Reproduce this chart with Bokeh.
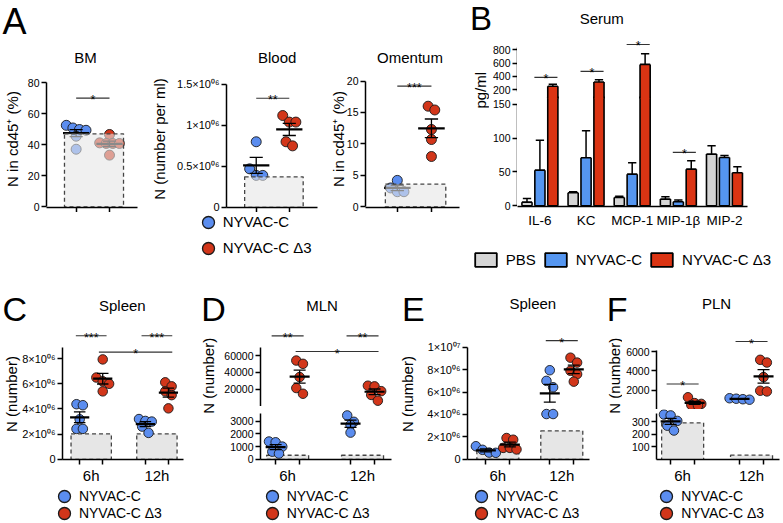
import numpy as np
from bokeh.plotting import figure
from bokeh.layouts import row, column
from bokeh.models import FixedTicker, Label, Range1d, Legend, LegendItem, LinearAxis, Grid
from bokeh.embed import file_html
from bokeh.resources import INLINE

# ---------------- data ----------------
series_names = ["NYVAC-C", "NYVAC-C Δ3"]
bar_series_names = ["PBS", "NYVAC-C", "NYVAC-C Δ3"]

# Panel A
bm_nyvac = [52.5, 50.8, 49.8, 49.3, 45.5, 37.1]
bm_d3 = [46.6, 41.2, 40.8, 40.8, 40.8, 33.3]
bm_pbs = [47.0]
blood_nyvac = [0.80e6, 0.47e6, 0.39e6, 0.39e6]
blood_d3 = [1.12e6, 1.04e6, 1.04e6, 0.80e6, 0.75e6]
blood_pbs = [0.373e6]
om_nyvac = [4.2, 3.0, 2.4, 2.4]
om_d3 = [16.0, 15.4, 12.3, 10.7, 8.0]
om_pbs = [3.6]
a_titles = ["BM", "Blood", "Omentum"]
a_ylabels = ["N in cd45⁺ (%)", "N (number per ml)", "N in cd45⁺ (%)"]
a_sig_y = [70.0, 1.33e6, 19.2]
a_sig_stars = ["*", "**", "***"]

bm_ticks = [0, 20, 40, 60, 80]
blood_ticks = [0, 500000, 1000000, 1500000]
blood_tick_labels = ["0", "0.5×10⁰⁶", "1×10⁰⁶", "1.5×10⁰⁶"]
om_ticks = [0, 5, 10, 15, 20]

# Panel B
b_cytokines = ["IL-6", "KC", "MCP-1", "MIP-1β", "MIP-2"]
b_pbs = [5.4, 19.2, 12.3, 9.9, 76.4]
b_pbs_err = [5.4, 1.5, 2.0, 3.4, 12.3]
b_nyvac = [52.7, 71.0, 46.8, 5.9, 71.4]
b_nyvac_err = [44.0, 40.0, 17.0, 2.5, 3.0]
b_d3 = [250.0, 314.0, 579.0, 54.2, 48.8]
b_d3_err = [30.0, 36.0, 160.0, 12.3, 8.8]
b_sig_index = [0, 1, 2, 3]
b_sig_y = [384.0, 474.0, 879.0, 79.0]
b_upper_ticks = [200, 400, 600, 800]
b_lower_ticks = [0, 50, 100, 150]

# Panels C-F
times = ["6h", "12h"]
c_nyvac = [[4.38e6, 4.30e6, 3.18e6, 2.42e6, 2.42e6], [3.20e6, 3.05e6, 3.00e6, 2.60e6, 2.10e6]]
c_d3 = [[7.94e6, 6.50e6, 6.20e6, 6.00e6, 5.40e6], [6.12e6, 5.80e6, 5.40e6, 5.10e6, 4.05e6]]
c_pbs = [2.03e6, 2.03e6]
c_sig = [((0, 0), (0, 1), 9.82e6, "***"), ((1, 0), (1, 1), 9.82e6, "***"), ((0, 1), (1, 1), 8.52e6, "*")]
c_ticks = [0, 2000000, 4000000, 6000000, 8000000]
c_tick_labels = ["0", "2×10⁰⁶", "4×10⁰⁶", "6×10⁰⁶", "8×10⁰⁶"]

d_nyvac = [[1400, 1340, 1000, 600, 450], [3450, 2950, 2700, 2100]]
d_d3 = [[54000, 50100, 34300, 21200, 14400], [24000, 23200, 17500, 13000, 6100]]
d_pbs = [320, 320]
d_sig = [((0, 0), (0, 1), 83450, "**"), ((1, 0), (1, 1), 83450, "**"), ((0, 1), (1, 1), 64760, "*")]
d_upper_ticks = [20000, 40000, 60000]
d_lower_ticks = [0, 1000, 2000, 3000]

e_nyvac = [[1.17e6, 0.85e6, 0.60e6, 0.58e6], [7.95e6, 7.00e6, 6.43e6, 4.04e6, 4.04e6]]
e_d3 = [[1.90e6, 1.75e6, 1.02e6, 1.02e6, 0.88e6], [9.07e6, 8.63e6, 7.90e6, 7.60e6, 6.93e6]]
e_pbs = [0.79e6, 2.54e6]
e_sig = [((1, 0), (1, 1), 10.59e6, "*")]
e_ticks = [0, 2000000, 4000000, 6000000, 8000000, 10000000]
e_tick_labels = ["0", "2×10⁰⁶", "4×10⁰⁶", "6×10⁰⁶", "8×10⁰⁶", "1×10⁰⁷"]

f_nyvac = [[355, 348, 305, 267, 229], [1200, 1150, 1100, 1050]]
f_d3 = [[1300, 700, 620, 500, 450], [5150, 4870, 3370, 1970, 1900]]
f_pbs = [290, 35]
f_sig = [((0, 0), (0, 1), 2656, "*"), ((1, 0), (1, 1), 7026, "*")]
f_upper_ticks = [2000, 4000, 6000]
f_lower_ticks = [0, 100, 200, 300]

time_ylabel = "N (number)"

# ---------------- styling / layout ----------------
INF = float("inf")
FONT = "Liberation Sans"
INK = "#000000"
BLUE = "#5b8def"
RED = "#d2361a"
BAR_BLUE = "#5596f0"
BAR_RED = "#db3413"
BAR_GRAY = "#d5d5d5"
BOX_FILL = "#e6e6e6"

W, H = 782, 522
SX, SY = W / 783.0, H / 523.0


def LX(v):
    return int(round(v * SX))


def LY(v):
    return int(round(v * SY))


def lin_range(anch, e_lo, e_hi, s):
    a1, p1, a2, p2 = anch
    k = (p2 - p1) * s / (a2 - a1)
    return (a1 + (e_lo - p1 * s) / k, a1 + (e_hi - p1 * s) / k)


def base_fig(w, h, xr, yr, mb, x_axis, y_axis):
    p = figure(width=w, height=h, x_range=xr, y_range=yr,
               min_border_left=mb[0], min_border_right=mb[1],
               min_border_top=mb[2], min_border_bottom=mb[3],
               toolbar_location=None, tools="", output_backend="svg",
               x_axis_location=("below" if x_axis else None),
               y_axis_location=("left" if y_axis else None))
    p.outline_line_color = None
    p.grid.visible = False
    p.center = [r for r in p.center if not isinstance(r, Grid)]
    p.background_fill_color = "white"
    p.border_fill_color = "white"
    return p


def make_fig(box, frame, xa, ya, x_axis=True, y_axis=True):
    bx0, by0, bx1, by1 = LX(box[0]), LY(box[1]), LX(box[2]), LY(box[3])
    fx0, fy0, fx1, fy1 = LX(frame[0]), LY(frame[1]), LX(frame[2]), LY(frame[3])
    xr = Range1d(*lin_range(xa, fx0, fx1, SX))
    yr = Range1d(*lin_range(ya, fy1, fy0, SY))
    p = base_fig(bx1 - bx0, by1 - by0, xr, yr,
                 (fx0 - bx0, bx1 - fx1, fy0 - by0, by1 - fy1), x_axis, y_axis)
    info = dict(fx0=fx0, fy0=fy0, fx1=fx1, fy1=fy1, ystart=yr.start, yend=yr.end,
                kx=(fx1 - fx0) / (xr.end - xr.start),
                ky=(fy1 - fy0) / (yr.end - yr.start))
    return p, info


def text_fig(box):
    bx0, by0, bx1, by1 = LX(box[0]), LY(box[1]), LX(box[2]), LY(box[3])
    w, h = bx1 - bx0, by1 - by0
    p = base_fig(w, h, Range1d(0, w), Range1d(0, h), (0, 0, 0, 0), False, False)
    return p, dict(fx0=bx0, fy0=by0, fx1=bx1, fy1=by1)


def style_axis(ax, size, standoff=2):
    ax.axis_line_color = INK
    ax.axis_line_width = 1.5
    ax.major_tick_line_color = INK
    ax.major_tick_line_width = 1.5
    ax.major_tick_out = 5
    ax.major_tick_in = 0
    ax.minor_tick_line_color = None
    ax.major_label_text_font = FONT
    ax.major_label_text_font_size = size
    ax.major_label_text_color = INK
    ax.major_label_standoff = standoff


def blank_labels(ax, ticks):
    ax.ticker = FixedTicker(ticks=[float(t) for t in ticks], minor_ticks=[])
    ax.major_label_overrides = {float(t): "" for t in ticks}
    ax.major_label_text_font_size = "0px"
    ax.major_label_standoff = 0


def set_y(p, ticks, labels, bounds, size):
    ax = p.yaxis[0]
    style_axis(ax, size)
    ax.ticker = FixedTicker(ticks=[float(t) for t in ticks], minor_ticks=[])
    if labels is not None:
        ax.major_label_overrides = {float(t): s for t, s in zip(ticks, labels)}
    ax.bounds = (float(bounds[0]), float(bounds[1]))
    return ax


def set_axis_label(ax, text, standoff):
    ax.axis_label = text
    ax.axis_label_text_font = FONT
    ax.axis_label_text_font_size = "15px"
    ax.axis_label_text_font_style = "normal"
    ax.axis_label_text_color = INK
    ax.axis_label_standoff = standoff


def add_text(p, info, text, rx, ry, size, align="center", angle=0.0):
    p.add_layout(Label(x=rx * SX - info["fx0"], y=info["fy1"] - ry * SY,
                       x_units="screen", y_units="screen", text=text,
                       text_font=FONT, text_font_size=size, text_align=align,
                       text_baseline="middle", angle=angle, text_color=INK))


def add_sig(p, x0, x1, yv, stars, rn="default"):
    p.segment(x0=[x0], y0=[yv], x1=[x1], y1=[yv], line_color="#333333", line_width=1.1, y_range_name=rn)
    p.add_layout(Label(x=(x0 + x1) / 2, y=yv, text=stars, text_align="center", y_range_name=rn,
                       text_baseline="alphabetic", y_offset=-2, text_font=FONT,
                       text_font_size="12.5px", text_color=INK))


def swarm(vals, kx, ky, d):
    order = np.argsort(-vals, kind="stable")
    off = np.zeros(len(vals))
    rows, cur = [], [order[0]]
    for i in order[1:]:
        if (vals[cur[0]] - vals[i]) * ky <= 0.75 * d:
            cur.append(i)
        else:
            rows.append(cur)
            cur = [i]
    rows.append(cur)
    for r in rows:
        n = len(r)
        for j, i in enumerate(r):
            off[i] = (j - (n - 1) / 2.0) * 0.7 * d / kx
    return off


def draw_group(p, info, xc, vals, color, size, mean_hw, cap_hw):
    vals = np.asarray(vals, dtype=float)
    off = swarm(vals, info["kx"], info["ky"], size)
    p.scatter(xc + off, vals, size=size, fill_color=color, line_color="#1a1a1a", line_width=0.9)
    m = vals.mean()
    se = vals.std(ddof=1) / np.sqrt(len(vals))
    hw = mean_hw / info["kx"]
    cw = cap_hw / info["kx"]
    p.segment(x0=[xc, xc - cw, xc - cw], y0=[m - se, m + se, m - se],
              x1=[xc, xc + cw, xc + cw], y1=[m + se, m + se, m - se],
              line_color=INK, line_width=1.3)
    p.segment(x0=[xc - hw], y0=[m], x1=[xc + hw], y1=[m], line_color=INK, line_width=2.2)


def circle_legend(p, info, cx, cy, label, color, size):
    gh = 30
    r = p.scatter(x=np.array([np.nan]), y=np.array([np.nan]), size=10, fill_color=color,
                  line_color="#1a1a1a", line_width=1.3)
    top = cy * SY - gh / 2.0
    left = cx * SX - gh / 2.0
    p.add_layout(Legend(items=[LegendItem(label=label, renderers=[r])],
                        location=(left - info["fx0"], info["fy1"] - (top + gh)),
                        glyph_width=gh, glyph_height=gh, label_standoff=0, padding=0, margin=0,
                        border_line_color=None, background_fill_alpha=0.0,
                        label_text_font=FONT, label_text_font_size=size, label_text_color=INK))


def series_legend(p, info, cx, cy, pitch, size):
    for k, (name, color) in enumerate(zip(series_names, (BLUE, RED))):
        circle_legend(p, info, cx, cy + k * pitch, name, color, size)


# ---------------- panel A ----------------
A_TOP, A_FRAME_BOT, A_BOT, ROW1 = 70, 207, 212, 287


def build_A(bx, fx, xa, ya, ticks, labels, bounds, tsize, ny, d3, pbs, sig_y, stars, ylabel, ystand):
    p, info = make_fig((bx[0], A_TOP, bx[1], A_BOT), (fx[0], A_TOP, fx[1], A_FRAME_BOT), xa, ya)
    ax = set_y(p, ticks, labels, bounds, tsize)
    set_axis_label(ax, ylabel, ystand)
    xax = p.xaxis[0]
    style_axis(xax, "0px", 0)
    g = np.arange(1, len(series_names) + 1, dtype=float)
    blank_labels(xax, g)
    for k, (vals, color) in enumerate(((ny, BLUE), (d3, RED))):
        draw_group(p, info, g[k], vals, color, 10, 14, 7)
    p.quad(left=[g[0] - 0.35], right=[g[-1] + 0.42], bottom=[0], top=pbs,
           fill_color=BOX_FILL, fill_alpha=0.6, line_color="#444444", line_dash="4 3", line_width=1.3)
    add_sig(p, g[0], g[-1], sig_y, stars)
    return p


hA, ihA = text_fig((0, 0, 468, A_TOP))
add_text(hA, ihA, "A", 2, 21, "36px", align="left")
for t, tx in zip(a_titles, [85, 277, 410]):
    add_text(hA, ihA, t, tx, 57, "15px")

bm = build_A((0, 148), (40, 137), (1, 71.7, 2, 107.3), (0, 206.7, 80, 82.3),
             bm_ticks, None, (0, 80), "10.5px", bm_nyvac, bm_d3, bm_pbs, a_sig_y[0], a_sig_stars[0],
             a_ylabels[0], 4)
blood = build_A((148, 326), (220, 317), (1, 252, 2, 287.3), (0, 207.3, 1.5e6, 84),
                blood_ticks, blood_tick_labels, (0, 1.5e6), "11px", blood_nyvac, blood_d3, blood_pbs,
                a_sig_y[1], a_sig_stars[1], a_ylabels[1], 6)
om = build_A((326, 468), (360, 460), (1, 394, 2, 430), (0, 206.7, 20, 80.7),
             om_ticks, None, (0, 20), "10.5px", om_nyvac, om_d3, om_pbs, a_sig_y[2], a_sig_stars[2],
             a_ylabels[2], -3)

fA, ifA = text_fig((0, A_BOT, 468, ROW1))
series_legend(fA, ifA, 208, 222, 26.3, "15px")

col_A = column(hA, row(bm, blood, om), fA)

# ---------------- panel B (broken y axis, one plotting frame, two scales) ----------------
CAT_W = 231 / 5.0
BAR_W = 0.22
b_xa = (0, 517 + 0.5 * CAT_W, 4, 517 + 4.5 * CAT_W)
B_TOP, B_JOIN, B_FRAME_BOT, B_FOOT = 37, 97, 206, 235
UP_ANCH = (200, 89.3, 800, 49.3)
LO_ANCH = (0, 205.7, 150, 104)
B_THR = 170.0

hB, ihB = text_fig((468, 0, 782, B_TOP))
add_text(hB, ihB, "B", 470, 18.5, "33px", align="left")
add_text(hB, ihB, "Serum", 602, 18, "15px")
sB, isB = text_fig((468, B_TOP, 490, B_FOOT))
add_text(sB, isB, "pg/ml", 481, 119, "15px", angle=np.pi / 2)

# axis-only figures carrying the two y-axis segments
axU, iU = make_fig((490, B_TOP, 518, B_JOIN), (517, B_TOP, 518, B_JOIN), b_xa, UP_ANCH, x_axis=False)
set_y(axU, b_upper_ticks, None, (175, 830), "10.5px")
axL, iL = make_fig((490, B_JOIN, 518, B_FOOT), (517, B_JOIN, 518, B_FRAME_BOT), b_xa, LO_ANCH, x_axis=False)
set_y(axL, b_lower_ticks, None, (0, 150), "10.5px")

pB, iB = make_fig((518, B_TOP, 782, B_FOOT), (518, B_TOP, 748, B_FRAME_BOT), b_xa, LO_ANCH,
                  x_axis=True, y_axis=False)
up_rng = Range1d(*lin_range(UP_ANCH, iB["fy1"], iB["fy0"], SY))
pB.extra_y_ranges = {"up": up_rng}
ky_lo = iB["ky"]
ky_up = (iB["fy1"] - iB["fy0"]) / (up_rng.end - up_rng.start)
J = LY(B_JOIN)
LJ = iB["ystart"] + (iB["fy1"] - J) / ky_lo + 1.0 / ky_lo      # lower scale value just above the break
UJ = up_rng.start + (iB["fy1"] - J) / ky_up - 1.0 / ky_up      # upper scale value just below the break

xs0 = np.arange(len(b_cytokines), dtype=float)
offs = [-0.28, 0.0, 0.28]
outline = dict(line_color=INK, line_width=1.6)
for k, (vals, errs, color) in enumerate(((b_pbs, b_pbs_err, BAR_GRAY),
                                        (b_nyvac, b_nyvac_err, BAR_BLUE),
                                        (b_d3, b_d3_err, BAR_RED))):
    v = np.asarray(vals, dtype=float)
    e = np.asarray(errs, dtype=float)
    xs = xs0 + offs[k]
    xl, xr_ = xs - BAR_W / 2, xs + BAR_W / 2
    hi = v > B_THR
    lo = ~hi
    top_lo = np.minimum(v, LJ)
    zeros = np.zeros(len(v))
    # lower-scale part of every bar
    pB.vbar(x=xs, top=top_lo, bottom=zeros, width=BAR_W, fill_color=color, line_color=None)
    pB.segment(x0=np.concatenate([xl, xr_, xl]), y0=np.concatenate([zeros, zeros, zeros]),
               x1=np.concatenate([xl, xr_, xr_]), y1=np.concatenate([top_lo, top_lo, zeros]), **outline)
    if lo.any():
        pB.segment(x0=xl[lo], y0=v[lo], x1=xr_[lo], y1=v[lo], **outline)
        et = (v + e)[lo]
        pB.segment(x0=xs[lo], y0=v[lo], x1=xs[lo], y1=et, line_color=INK, line_width=1.5)
        pB.segment(x0=xs[lo] - 0.09, y0=et, x1=xs[lo] + 0.09, y1=et, line_color=INK, line_width=1.5)
    # upper-scale part of the bars that cross the break
    if hi.any():
        ub = np.full(hi.sum(), UJ)
        pB.vbar(x=xs[hi], top=v[hi], bottom=ub, width=BAR_W, fill_color=color, line_color=None,
                y_range_name="up")
        pB.segment(x0=np.concatenate([xl[hi], xr_[hi], xl[hi]]), y0=np.concatenate([ub, ub, v[hi]]),
                   x1=np.concatenate([xl[hi], xr_[hi], xr_[hi]]), y1=np.concatenate([v[hi], v[hi], v[hi]]),
                   y_range_name="up", **outline)
        et = (v + e)[hi]
        pB.segment(x0=xs[hi], y0=v[hi], x1=xs[hi], y1=et, line_color=INK, line_width=1.5, y_range_name="up")
        pB.segment(x0=xs[hi] - 0.09, y0=et, x1=xs[hi] + 0.09, y1=et, line_color=INK, line_width=1.5,
                   y_range_name="up")
for idx, yv in zip(b_sig_index, b_sig_y):
    add_sig(pB, idx - 0.12, idx + 0.38, yv, "*", rn=("up" if yv > B_THR else "default"))
bx_ax = pB.xaxis[0]
style_axis(bx_ax, "13.5px", 6)
bx_ax.major_tick_out = 0
bx_ax.ticker = FixedTicker(ticks=list(xs0), minor_ticks=[])
bx_ax.major_label_overrides = {float(i): c for i, c in zip(xs0, b_cytokines)}

fB, ifB = text_fig((468, B_FOOT, 782, ROW1))
proxies = [fB.vbar(x=np.array([np.nan]), top=np.array([np.nan]), bottom=0, width=BAR_W,
                   fill_color=c, line_color=INK, line_width=1.8)
           for c in (BAR_GRAY, BAR_BLUE, BAR_RED)]
gw, gh = 27, 17
leg_top = 259.5 * SY - gh / 2.0
leg_left = 475 * SX - 0.1 * gw
fB.add_layout(Legend(items=[LegendItem(label=n, renderers=[r]) for n, r in zip(bar_series_names, proxies)],
                     location=(leg_left - ifB["fx0"], ifB["fy1"] - (leg_top + gh)),
                     orientation="horizontal", glyph_width=gw, glyph_height=gh, label_height=gh,
                     label_standoff=7, spacing=6, padding=0, margin=0, border_line_color=None,
                     background_fill_alpha=0.0, label_text_font=FONT, label_text_font_size="15px",
                     label_text_color=INK))

col_B = column(hB, row(sB, column(axU, axL), pB), fB)

# ---------------- panels C-F ----------------
COL_OFF = 12.0
BOX_HW = 21.0
SIG_EXT = 4.0
PT = 9.5
T_TOP, T_BOT = 329, 487


def build_time(x0, x1, fx, xa, segs, ny, d3, pbs, sig, ylab_stand=None):
    figs = []
    for si, sg in enumerate(segs):
        is_bot = si == len(segs) - 1
        p, info = make_fig((x0, sg["y0"], x1, sg["y1"]), (fx[0], sg["fy0"], fx[1], sg["fy1"]),
                           xa, sg["ya"], x_axis=is_bot)
        lo_bound = info["ystart"] if sg["upper"] else 0
        yax = set_y(p, sg["ticks"], sg.get("labels"), (lo_bound, sg["top"]), sg["font"])
        if ylab_stand is not None:
            set_axis_label(yax, time_ylabel, ylab_stand)
        kx = info["kx"]
        off = COL_OFF / kx
        g = np.arange(1, len(times) + 1, dtype=float)
        lo, hi = sg["band"]
        if not sg["upper"]:
            p.quad(left=g - BOX_HW / kx, right=g + BOX_HW / kx, bottom=0, top=pbs,
                   fill_color=BOX_FILL, line_color="#444444", line_dash="4 3", line_width=1.3)
        for ti in range(len(times)):
            for k, (grp, color) in enumerate(((ny, BLUE), (d3, RED))):
                vals = grp[ti]
                if lo < np.mean(vals) <= hi:
                    draw_group(p, info, g[ti] + (2 * k - 1) * off, vals, color, PT, 10, 6)
        for (a, b, yv, stars) in sig:
            if lo < yv <= hi:
                xa_ = g[a[0]] + (2 * a[1] - 1) * off - SIG_EXT / kx
                xb_ = g[b[0]] + (2 * b[1] - 1) * off + SIG_EXT / kx
                add_sig(p, xa_, xb_, yv, stars)
        if is_bot:
            ax = p.xaxis[0]
            style_axis(ax, "0px", 0)
            blank_labels(ax, sorted(list(g - off) + list(g + off)))
            ax2 = LinearAxis(ticker=FixedTicker(ticks=list(g), minor_ticks=[]),
                             major_label_overrides={float(v): t for v, t in zip(g, times)})
            style_axis(ax2, "15px", 2)
            ax2.axis_line_color = None
            ax2.major_tick_line_color = None
            ax2.major_tick_out = 0
            p.add_layout(ax2, "below")
        figs.append(p)
    return figs[0] if len(figs) == 1 else column(*figs)


hT, ihT = text_fig((0, 287, 782, T_TOP))
for letter, lx in (("C", 2), ("D", 201), ("E", 402), ("F", 607)):
    add_text(hT, ihT, letter, lx, 309.5, "34px", align="left")
for t, tx, ty in (("Spleen", 122, 306), ("MLN", 322, 306), ("Spleen", 533, 304), ("PLN", 717, 304)):
    add_text(hT, ihT, t, tx, ty, "15px")

c_fig = build_time(0, 195, (57, 183), (1, 87, 2, 155.5),
                   [dict(y0=T_TOP, y1=T_BOT, fy0=T_TOP, fy1=462, ya=(0, 461.7, 8e6, 359.3), ticks=c_ticks,
                         labels=c_tick_labels, top=8.9e6, font="11px", band=(-INF, INF), upper=False)],
                   c_nyvac, c_d3, c_pbs, c_sig, ylab_stand=-1)
sD, isD = text_fig((195, T_TOP, 218, T_BOT))
add_text(sD, isD, time_ylabel, 208.5, 403, "15px", angle=np.pi / 2)
d_fig = build_time(218, 397, (260, 392), (1, 287.5, 2, 362.5),
                   [dict(y0=T_TOP, y1=407, fy0=T_TOP, fy1=407, ya=(20000, 389.3, 60000, 355.7),
                         ticks=d_upper_ticks, top=70000, font="10.5px", band=(3600, INF), upper=True),
                    dict(y0=407, y1=T_BOT, fy0=408, fy1=462, ya=(0, 461.7, 3000, 422),
                         ticks=d_lower_ticks, top=3600, font="10.5px", band=(-INF, 3600), upper=False)],
                   d_nyvac, d_d3, d_pbs, d_sig)
e_fig = build_time(397, 600, (468, 590), (1, 498, 2, 562),
                   [dict(y0=T_TOP, y1=T_BOT, fy0=T_TOP, fy1=462, ya=(0, 461.7, 1e7, 347.7), ticks=e_ticks,
                         labels=e_tick_labels, top=1e7, font="11px", band=(-INF, INF), upper=False)],
                   e_nyvac, e_d3, e_pbs, e_sig, ylab_stand=8)
sF, isF = text_fig((600, T_TOP, 623, T_BOT))
add_text(sF, isF, time_ylabel, 614.5, 403, "15px", angle=np.pi / 2)
f_fig = build_time(623, 782, (657, 780), (1, 683, 2, 752),
                   [dict(y0=T_TOP, y1=410, fy0=T_TOP, fy1=410, ya=(2000, 390.7, 6000, 351.7),
                         ticks=f_upper_ticks, top=6150, font="10.5px", band=(362, INF), upper=True),
                    dict(y0=410, y1=T_BOT, fy0=410, fy1=462, ya=(0, 462, 300, 422.3),
                         ticks=f_lower_ticks, top=362, font="10.5px", band=(-INF, 362), upper=False)],
                   f_nyvac, f_d3, f_pbs, f_sig)

fT, ifT = text_fig((0, T_BOT, 782, 523))
for cx in (64, 272, 482, 667):
    series_legend(fT, ifT, cx, 496.5, 17.0, "14px")

bottom = column(hT, row(c_fig, sD, d_fig, e_fig, sF, f_fig), fT)
layout = column(row(col_A, col_B), bottom)
open("out.html", "w").write(file_html(layout, INLINE))
